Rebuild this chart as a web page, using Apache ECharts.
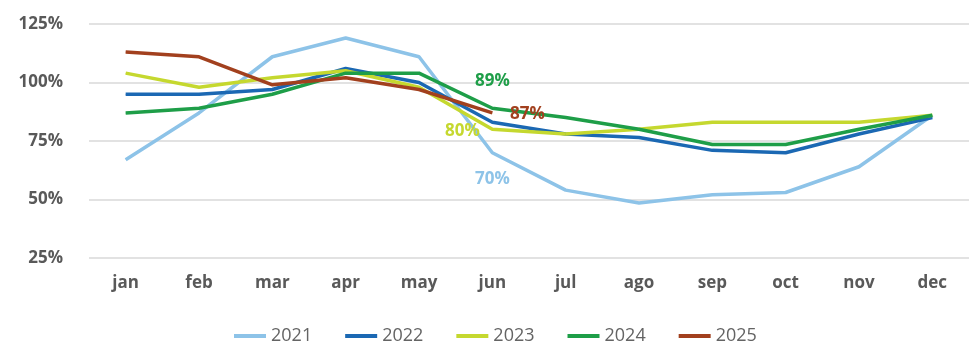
<!DOCTYPE html>
<html>
<head>
<meta charset="utf-8">
<script src="https://cdn.jsdelivr.net/npm/echarts@6/dist/echarts.min.js"></script>
<style>
html,body{margin:0;padding:0;background:#fff;}
#chart{width:975px;height:361px;}
</style>
</head>
<body>
<div id="chart"></div>
<script>
const months = ['jan','feb','mar','apr','may','jun','jul','ago','sep','oct','nov','dec'];
const yTicks = [25, 50, 75, 100, 125];
const s2021 = [67, 87, 111, 119, 111, 70, 54, 48.5, 52, 53, 64, 86];
const s2022 = [95, 95, 97, 106, 100, 83, 78, 76.5, 71, 70, 78, 85];
const s2023 = [104, 98, 102, 105, 98, 80, 78, 80, 83, 83, 83, 86];
const s2024 = [87, 89, 95, 104, 104, 89, 85, 80, 73.5, 73.5, 80, 86];
const s2025 = [113, 111, 99, 102, 97, 87];
const seriesNames = ['2021', '2022', '2023', '2024', '2025'];
const colors = ['#8DC3E8', '#1B68B3', '#C5D82F', '#1E9E48', '#A2401E'];
const labelIndex = 5; // jun
const labelOffsets = [[0, 26], [0, 0], [-30, 2], [0, -27], [35, 1]];
const labelShown = [true, false, true, true, true];

const font = 'Open Sans';
const allData = [s2021, s2022, s2023, s2024, s2025];

const series = allData.map((arr, i) => ({
  name: seriesNames[i],
  type: 'line',
  symbol: 'circle',
  symbolSize: 0.5,
  showSymbol: true,
  smooth: false,
  lineStyle: { width: 3.5, color: colors[i] },
  itemStyle: { color: colors[i] },
  emphasis: { disabled: true },
  data: arr.map((v, j) => {
    if (j === labelIndex && labelShown[i]) {
      return {
        value: v,
        label: {
          show: true,
          position: 'inside',
          offset: labelOffsets[i],
          formatter: '{c}%',
          color: colors[i],
          fontFamily: font,
          fontWeight: 'bold',
          fontSize: 17
        }
      };
    }
    return v;
  })
}));

const chart = echarts.init(document.getElementById('chart'), null, { renderer: 'canvas' });
chart.setOption({
  animation: false,
  backgroundColor: '#ffffff',
  color: colors,
  grid: { left: 89, right: 6, top: 24, bottom: 103, containLabel: false },
  legend: {
    data: seriesNames,
    left: 229,
    top: 322,
    icon: 'rect',
    itemWidth: 32,
    itemHeight: 4,
    itemGap: 33,
    itemStyle: { opacity: 1 },
    textStyle: { color: '#646464', fontFamily: font, fontSize: 18 }
  },
  xAxis: {
    type: 'category',
    data: months,
    boundaryGap: true,
    axisLine: { show: false },
    axisTick: { show: false },
    axisLabel: { color: '#595959', fontFamily: font, fontWeight: 'bold', fontSize: 17, margin: 17 }
  },
  yAxis: {
    type: 'value',
    min: yTicks[0],
    max: yTicks[yTicks.length - 1],
    interval: 25,
    axisLine: { show: false },
    axisTick: { show: false },
    splitLine: { lineStyle: { color: '#D9D9D9', width: 1.5 } },
    axisLabel: { color: '#595959', fontFamily: font, fontWeight: 'bold', fontSize: 17, margin: 26, formatter: '{value}%' }
  },
  series: series
});
</script>
</body>
</html>
